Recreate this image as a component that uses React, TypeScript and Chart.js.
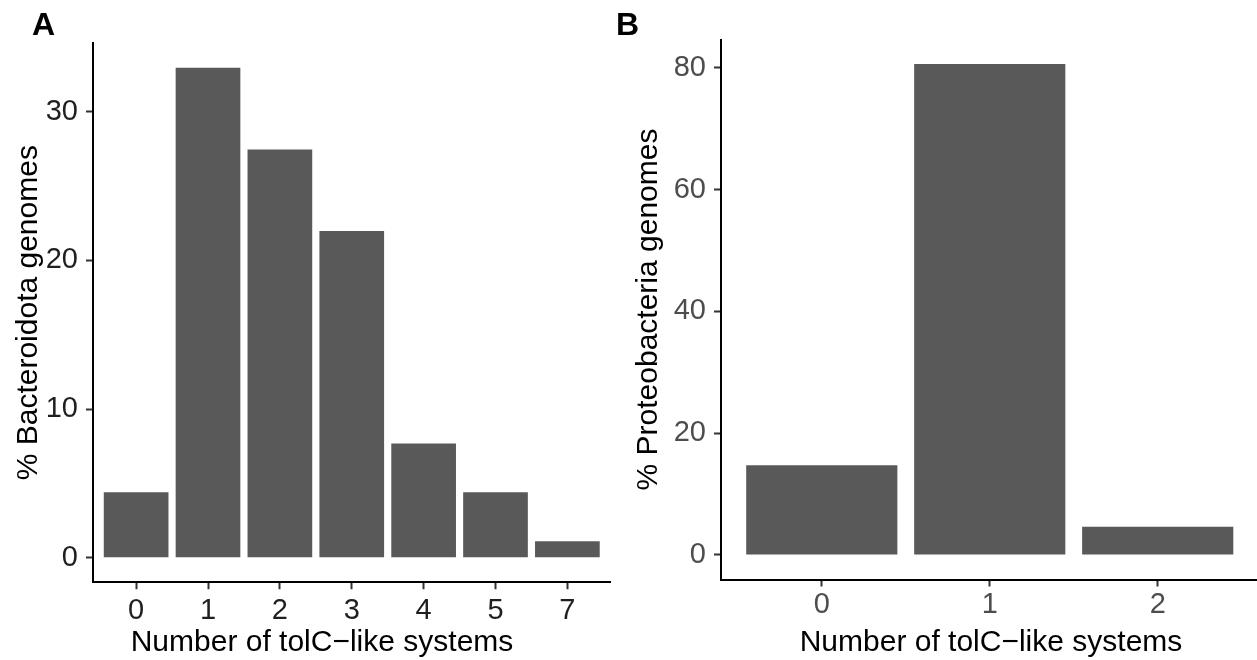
import React, { useEffect, useRef } from "react";
import { Chart, registerables } from "chart.js";

Chart.register(...registerables);

const FONT = '"Liberation Sans", Arial, Helvetica, sans-serif';

// ---- Data ----
const categoriesA = ["0", "1", "2", "3", "4", "5", "7"];
const percentA = [4.4, 32.97, 27.47, 21.98, 7.69, 4.4, 1.1];
const yTicksA = [0, 10, 20, 30];

const categoriesB = ["0", "1", "2"];
const percentB = [14.73, 80.62, 4.65];
const yTicksB = [0, 20, 40, 60, 80];

const xTitleText = "Number of tolC\u2212like systems";
const yTitleA = "% Bacteroidota genomes";
const yTitleB = "% Proteobacteria genomes";

type PanelCfg = {
  letter: string;
  categories: string[];
  values: number[];
  yTicks: number[];
  yTitle: string;
  left: number;
  width: number;
  height: number;
  area: { left: number; right: number; top: number; bottom: number };
  tickLabelColor: string;
  xLabelPad: number;
  letterX: number;
  xTitleX: number;
  yTitleX: number;
};

const panels: PanelCfg[] = [
  {
    letter: "A",
    categories: categoriesA,
    values: percentA,
    yTicks: yTicksA,
    yTitle: yTitleA,
    left: 0,
    width: 620,
    height: 660,
    area: { left: 93, right: 610.5, top: 43.2, bottom: 582.2 },
    tickLabelColor: "#1f1f1f",
    xLabelPad: 4,
    letterX: 32,
    xTitleX: 322,
    yTitleX: 37.3,
  },
  {
    letter: "B",
    categories: categoriesB,
    values: percentB,
    yTicks: yTicksB,
    yTitle: yTitleB,
    left: 610,
    width: 650,
    height: 660,
    area: { left: 111, right: 648.5, top: 39.5, bottom: 579.5 },
    tickLabelColor: "#4d4d4d",
    xLabelPad: 1.5,
    letterX: 6,
    xTitleX: 381,
    yTitleX: 46.7,
  },
];

function Panel({ cfg }: { cfg: PanelCfg }) {
  const ref = useRef<HTMLCanvasElement | null>(null);

  useEffect(() => {
    const canvas = ref.current;
    if (!canvas) return;
    const vmax = Math.max(...cfg.values);
    const yMin = -0.05 * vmax;
    const yMax = 1.05 * vmax;

    const textPlugin = {
      id: "panelText",
      afterDraw(chart: any) {
        const { ctx, chartArea } = chart;
        ctx.save();
        ctx.fillStyle = "#000000";
        ctx.textBaseline = "alphabetic";
        ctx.font = `bold 32px ${FONT}`;
        ctx.textAlign = "left";
        ctx.fillText(cfg.letter, cfg.letterX, 35);
        ctx.font = `30px ${FONT}`;
        ctx.textAlign = "center";
        ctx.fillText(xTitleText, cfg.xTitleX, 650.5);
        ctx.translate(cfg.yTitleX, (chartArea.top + chartArea.bottom) / 2);
        ctx.rotate(-Math.PI / 2);
        ctx.fillText(cfg.yTitle, 0, 0);
        ctx.restore();
      },
    };

    const gridOpts = {
      display: true,
      offset: false,
      drawOnChartArea: false,
      drawTicks: true,
      tickLength: 7,
      tickWidth: 2,
      tickColor: "#333333",
    };
    const borderOpts = { display: true, color: "#000000", width: 2 };

    const chart = new Chart(canvas, {
      type: "bar",
      data: {
        datasets: [
          {
            data: cfg.values.map((v, i) => ({ x: i, y: v })),
            backgroundColor: "#595959",
            borderWidth: 0,
            barPercentage: 0.9,
            categoryPercentage: 1,
          },
        ],
      },
      options: {
        animation: false,
        responsive: false,
        layout: {
          autoPadding: false,
          padding: {
            left: 0,
            top: cfg.area.top,
            right: cfg.width - cfg.area.right,
            bottom: 0,
          },
        },
        plugins: {
          legend: { display: false },
          tooltip: { enabled: false },
          title: { display: false },
        },
        scales: {
          x: {
            type: "linear",
            offset: false,
            min: -0.6,
            max: cfg.categories.length - 0.4,
            afterBuildTicks: (s: any) => {
              s.ticks = cfg.categories.map((_, i) => ({ value: i }));
            },
            afterFit: (s: any) => {
              s.height = cfg.height - cfg.area.bottom;
            },
            ticks: {
              autoSkip: false,
              maxRotation: 0,
              minRotation: 0,
              padding: cfg.xLabelPad,
              color: cfg.tickLabelColor,
              font: { family: FONT, size: 29 },
              callback: (v: any) => cfg.categories[Math.round(Number(v))] ?? "",
            },
            grid: gridOpts,
            border: borderOpts,
          },
          y: {
            type: "linear",
            offset: false,
            min: yMin,
            max: yMax,
            afterBuildTicks: (s: any) => {
              s.ticks = cfg.yTicks.map((v) => ({ value: v }));
            },
            afterFit: (s: any) => {
              s.width = cfg.area.left;
            },
            ticks: {
              padding: 8,
              color: cfg.tickLabelColor,
              font: { family: FONT, size: 29 },
              callback: (v: any) => String(v),
            },
            grid: gridOpts,
            border: borderOpts,
          },
        },
      } as any,
      plugins: [textPlugin],
    });
    return () => chart.destroy();
  }, [cfg]);

  return (
    <canvas
      ref={ref}
      width={cfg.width}
      height={cfg.height}
      style={{
        position: "absolute",
        left: cfg.left,
        top: 0,
        width: cfg.width,
        height: cfg.height,
      }}
    />
  );
}

export default function App() {
  return (
    <div
      style={{
        position: "fixed",
        left: 0,
        top: 0,
        width: 1257,
        height: 660,
        overflow: "hidden",
        background: "#ffffff",
      }}
    >
      {panels.map((p) => (
        <Panel key={p.letter} cfg={p} />
      ))}
    </div>
  );
}
